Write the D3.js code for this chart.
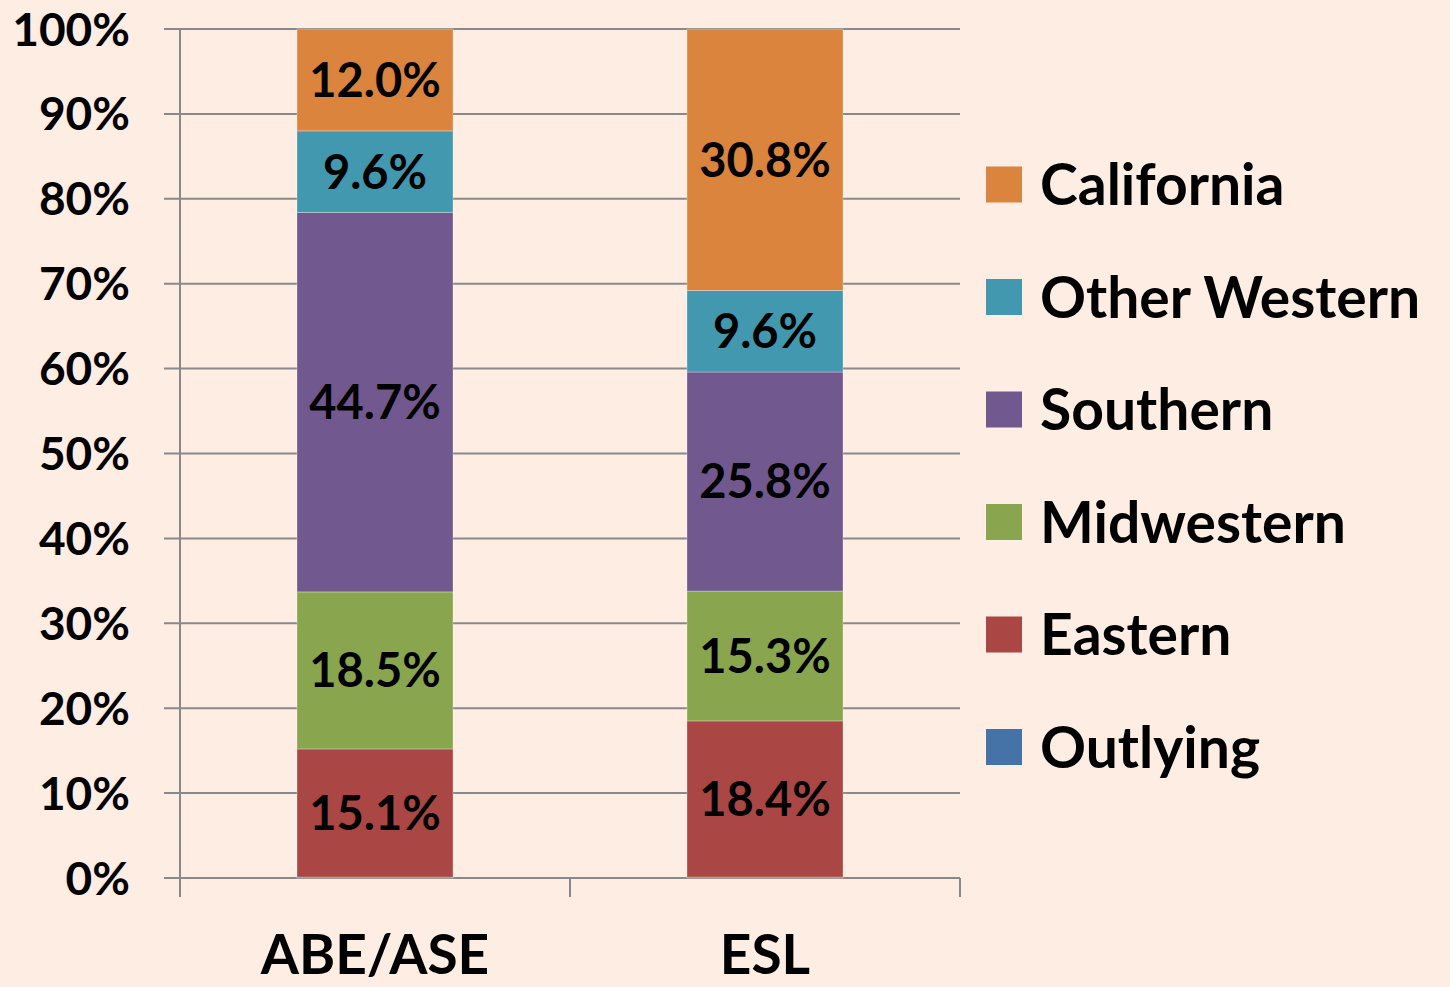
<!DOCTYPE html>
<html>
<head>
<meta charset="utf-8">
<script src="https://cdn.jsdelivr.net/npm/d3@7/dist/d3.min.js"></script>
<style>
  html, body { margin: 0; padding: 0; background: #feede3; }
  svg { display: block; }
  text { font-family: Lato, "Open Sans", sans-serif; font-weight: bold; fill: #000; }
</style>
</head>
<body>
<div id="chart"></div>
<script>
// chart data (percent of each program)
const categories = ["ABE/ASE", "ESL"];
const outlying = [0.1, 0.1];
const eastern = [15.1, 18.4];
const midwestern = [18.5, 15.3];
const southern = [44.7, 25.8];
const otherWestern = [9.6, 9.6];
const california = [12.0, 30.8];
const yTicks = [0, 10, 20, 30, 40, 50, 60, 70, 80, 90, 100];

const seriesNames = ["Outlying", "Eastern", "Midwestern", "Southern", "Other Western", "California"];
const seriesValues = [outlying, eastern, midwestern, southern, otherWestern, california];
const colors = ["#4572a7", "#aa4643", "#89a54e", "#71588f", "#4198af", "#db843d"];

const width = 1450, height = 987;

const svg = d3.select("#chart").append("svg")
    .attr("width", width)
    .attr("height", height);

// build rows for d3.stack
const rows = categories.map((c, i) => {
    const row = { category: c };
    seriesNames.forEach((s, j) => { row[s] = seriesValues[j][i]; });
    return row;
});
const stacked = d3.stack().keys(seriesNames)(rows);

const x = d3.scaleBand()
    .domain(categories)
    .range([180, 960]);

const y = d3.scaleLinear()
    .domain([0, 100])
    .range([878, 29]);

const color = d3.scaleOrdinal().domain(seriesNames).range(colors);

// gridlines
svg.append("g")
    .selectAll("line")
    .data(yTicks)
    .enter()
    .append("line")
      .attr("x1", 164)
      .attr("x2", 960)
      .attr("y1", d => y(d))
      .attr("y2", d => y(d))
      .attr("stroke", "#898989")
      .attr("stroke-width", 2);

// y axis line
svg.append("line")
    .attr("x1", 180).attr("x2", 180)
    .attr("y1", y(100)).attr("y2", 897)
    .attr("stroke", "#898989")
    .attr("stroke-width", 2);

// category ticks (band edges)
const edges = categories.map(c => x(c)).concat([x.range()[1]]);
svg.append("g")
    .selectAll("line")
    .data(edges)
    .enter()
    .append("line")
      .attr("x1", d => d)
      .attr("x2", d => d)
      .attr("y1", y(0))
      .attr("y2", 897)
      .attr("stroke", "#898989")
      .attr("stroke-width", 2);

// y tick labels
svg.append("g")
    .selectAll("text")
    .data(yTicks)
    .enter()
    .append("text")
      .attr("x", 130)
      .attr("y", d => y(d))
      .attr("dy", "0.36em")
      .attr("text-anchor", "end")
      .style("font-size", "46px")
      .text(d => d + "%");

// bars
const barW = x.bandwidth() * 0.4;
const barOff = (x.bandwidth() - barW) / 2;

const layers = svg.append("g")
    .selectAll("g")
    .data(stacked)
    .enter()
    .append("g")
      .attr("fill", d => color(d.key));

layers.selectAll("rect")
    .data(d => d)
    .enter()
    .append("rect")
      .attr("x", d => x(d.data.category) + barOff)
      .attr("y", d => y(d[1]))
      .attr("width", barW)
      .attr("height", d => y(d[0]) - y(d[1]))
      .attr("stroke", "rgba(255,255,255,0.3)")
      .attr("stroke-width", 1);

// value labels (skip the tiny Outlying share)
svg.append("g")
    .selectAll("g")
    .data(stacked.filter(s => s.key !== "Outlying"))
    .enter()
    .append("g")
    .selectAll("text")
    .data(d => d)
    .enter()
    .append("text")
      .attr("x", d => x(d.data.category) + x.bandwidth() / 2)
      .attr("y", d => (y(d[0]) + y(d[1])) / 2)
      .attr("dy", "0.36em")
      .attr("text-anchor", "middle")
      .style("font-size", "47px")
      .text(d => (d[1] - d[0]).toFixed(1) + "%");

// category labels
svg.append("g")
    .selectAll("text")
    .data(categories)
    .enter()
    .append("text")
      .attr("x", d => x(d) + x.bandwidth() / 2)
      .attr("y", 974)
      .attr("text-anchor", "middle")
      .style("font-size", "55px")
      .text(d => d);

// legend, top to bottom in reverse stack order
const legendNames = seriesNames.slice().reverse();
const legend = svg.append("g")
    .selectAll("g")
    .data(legendNames)
    .enter()
    .append("g")
      .attr("transform", (d, i) => `translate(986, ${184.5 + i * 112.5})`);

legend.append("rect")
    .attr("x", 0)
    .attr("y", -18)
    .attr("width", 36)
    .attr("height", 36)
    .attr("fill", d => color(d));

legend.append("text")
    .attr("x", 54)
    .attr("y", 0)
    .attr("dy", "0.36em")
    .style("font-size", "57px")
    .text(d => d);
</script>
</body>
</html>
